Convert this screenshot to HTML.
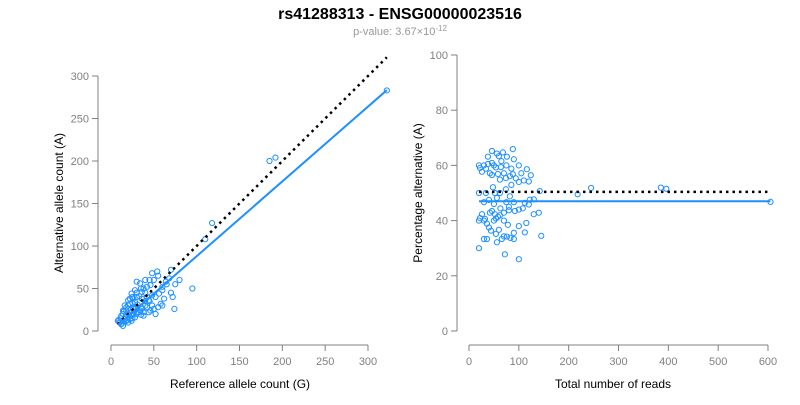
<!DOCTYPE html>
<html><head><meta charset="utf-8"><style>
body{margin:0;background:#fff;font-family:"Liberation Sans",Arial,sans-serif;}
svg text{font-family:"Liberation Sans",Arial,sans-serif;}
</style></head><body>
<svg id="c" width="800" height="400" viewBox="0 0 800 400">
<text x="400" y="19" text-anchor="middle" font-size="16" font-weight="bold" fill="#000">rs41288313 - ENSG00000023516</text>
<text x="400" y="35" text-anchor="middle" font-size="11" fill="#999">p-value: 3.67×10<tspan dy="-4" font-size="8">-12</tspan></text>
<g id="L"></g>
<g id="R"></g>
<text x="240" y="388" text-anchor="middle" font-size="12">Reference allele count (G)</text>
<text transform="translate(63,203) rotate(-90)" text-anchor="middle" font-size="12">Alternative allele count (A)</text>
<text x="613" y="388" text-anchor="middle" font-size="12">Total number of reads</text>
<text transform="translate(422,193) rotate(-90)" text-anchor="middle" font-size="12">Percentage alternative (A)</text>
</svg>
<script>
const refCounts=[10,12,8,14,9,15,11,13,16,18,12,20,14,17,19,21,15,22,24,18,25,20,26,23,28,16,27,30,22,29,32,25,34,28,35,20,31,36,26,38,30,40,24,42,33,44,36,45,28,48,38,50,34,52,42,55,30,56,46,58,40,60,50,62,48,65,54,70,44,38,46,52,60,64,72,80,35,40,25,45,18,30,22,35,55,48,42,36,60,68,75,30,26,40,14,24,20,74,118,185,192,322,110,95,70];
const altCounts=[10,8,12,6,13,11,15,9,14,12,18,10,20,17,13,19,23,14,18,24,15,26,20,25,16,30,23,20,32,27,22,33,24,34,19,36,31,26,38,22,40,30,44,28,41,22,46,35,48,30,50,26,56,40,52,28,58,44,54,32,60,48,60,38,68,55,70,45,36,18,24,20,30,58,40,60,50,45,40,60,28,45,38,28,65,42,40,38,52,62,55,22,26,35,24,12,30,26,127,200,204,283,108,50,72];
const leftXTicks=[0,50,100,150,200,250,300];
const leftYTicks=[0,50,100,150,200,250,300];
const rightXTicks=[0,100,200,300,400,500,600];
const rightYTicks=[0,20,40,60,80,100];
const fitSlope=[0.88];
const meanPct=[47.0];
const refLine=[50.4];
const NS="http://www.w3.org/2000/svg";
function mk(p,t,a){const e=document.createElementNS(NS,t);for(const k in a)e.setAttribute(k,a[k]);p.appendChild(e);return e;}
const lx=v=>111+v*257/300, ly=v=>331-v*255/300;
const rx=v=>469+v*299/600, ry=v=>331-v*2.76;
const L=document.getElementById('L'),R=document.getElementById('R');
function axes(g,xs,ys,xf,yf,ax,ay,px){
 const xa=mk(g,'line',{x1:xf(xs[0]),x2:xf(xs[xs.length-1]),y1:ax,y2:ax,stroke:'#808080'});
 
 
 xs.forEach(v=>{mk(g,'line',{x1:xf(v),x2:xf(v),y1:ax,y2:ax+6,stroke:'#808080'});
  const t=mk(g,'text',{x:xf(v),y:ax+20,'text-anchor':'middle','font-size':11,fill:'#808080'});t.textContent=v;
  
  });
 const ya=mk(g,'line',{x1:ay,x2:ay,y1:yf(ys[0]),y2:yf(ys[ys.length-1]),stroke:'#808080'});
 
 
 ys.forEach(v=>{mk(g,'line',{x1:ay-6,x2:ay,y1:yf(v),y2:yf(v),stroke:'#808080'});
  const t=mk(g,'text',{x:ay-9,y:yf(v)+4,'text-anchor':'end','font-size':11,fill:'#808080'});t.textContent=v;
  
  });
}
axes(L,leftXTicks,leftYTicks,lx,ly,345,98,'left');
axes(R,rightXTicks,rightYTicks,rx,ry,345,457,'right');
const maxRef=Math.max(...refCounts),minRef=Math.min(...refCounts);
refCounts.forEach((r,i)=>{const c=mk(L,'circle',{cx:lx(r),cy:ly(altCounts[i]),r:2.6,fill:'none',stroke:'#1e90ff','stroke-width':1});
 
 });
const d1=mk(L,'line',{x1:lx(minRef),y1:ly(minRef),x2:lx(maxRef),y2:ly(maxRef),stroke:'#000','stroke-width':2.5,'stroke-dasharray':'2.5 4'});


const f1=mk(L,'line',{x1:lx(minRef),y1:ly(minRef*fitSlope[0]),x2:lx(maxRef),y2:ly(maxRef*fitSlope[0]),stroke:'#1e90ff','stroke-width':2});


const totals=refCounts.map((r,i)=>r+altCounts[i]);
const pcts=totals.map((t,i)=>100*altCounts[i]/t);
totals.forEach((t,i)=>{const c=mk(R,'circle',{cx:rx(t),cy:ry(pcts[i]),r:2.6,fill:'none',stroke:'#1e90ff','stroke-width':1});
 
 });
const maxT=Math.max(...totals),minT=Math.min(...totals);
const d2=mk(R,'line',{x1:rx(minT),y1:ry(refLine[0]),x2:rx(maxT),y2:ry(refLine[0]),stroke:'#000','stroke-width':2.5,'stroke-dasharray':'2.5 4'});


const f2=mk(R,'line',{x1:rx(minT),y1:ry(meanPct[0]),x2:rx(maxT),y2:ry(meanPct[0]),stroke:'#1e90ff','stroke-width':2});


</script>
</body></html>
